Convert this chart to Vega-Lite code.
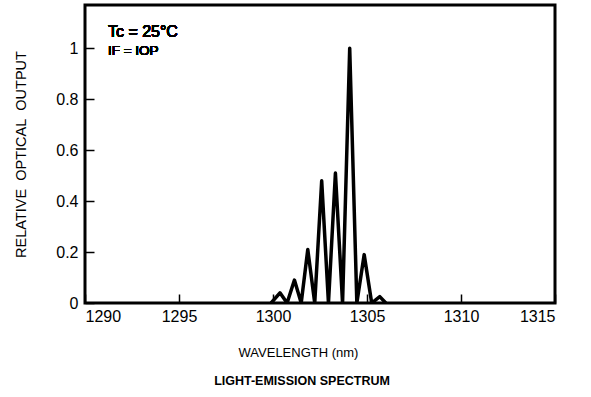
{
  "$schema": "https://vega.github.io/schema/vega-lite/v6.json",
  "width": 470,
  "height": 298,
  "autosize": "none",
  "padding": {"left": 85, "top": 5, "right": 36, "bottom": 94},
  "background": "white",
  "config": {
    "font": "Liberation Sans",
    "view": {"stroke": "black", "strokeWidth": 3},
    "axis": {
      "grid": false,
      "domain": false,
      "tickColor": "black",
      "tickWidth": 1.5,
      "tickSize": -9,
      "labelColor": "black",
      "labelFont": "Liberation Sans",
      "labelFontSize": 16,
      "titleColor": "black",
      "titleFont": "Liberation Sans",
      "titleFontWeight": "normal"
    }
  },
  "title": {
    "text": "LIGHT-EMISSION SPECTRUM",
    "orient": "bottom",
    "anchor": "middle",
    "dx": -18,
    "offset": 16,
    "baseline": "top",
    "font": "Liberation Sans",
    "fontSize": 12.5,
    "fontWeight": 900,
    "color": "black"
  },
  "data": {
    "values": [
      {"wavelength": 1299.9, "output": 0},
      {"wavelength": 1300.37, "output": 0.04},
      {"wavelength": 1300.75, "output": 0},
      {"wavelength": 1301.14, "output": 0.09},
      {"wavelength": 1301.5, "output": 0},
      {"wavelength": 1301.85, "output": 0.21},
      {"wavelength": 1302.22, "output": 0},
      {"wavelength": 1302.59, "output": 0.48},
      {"wavelength": 1302.95, "output": 0},
      {"wavelength": 1303.32, "output": 0.51},
      {"wavelength": 1303.7, "output": 0},
      {"wavelength": 1304.08, "output": 1.0},
      {"wavelength": 1304.46, "output": 0},
      {"wavelength": 1304.85, "output": 0.19},
      {"wavelength": 1305.25, "output": 0},
      {"wavelength": 1305.68, "output": 0.025},
      {"wavelength": 1306.0, "output": 0}
    ]
  },
  "layer": [
    {
      "mark": {"type": "line", "color": "black", "strokeWidth": 3.5, "strokeJoin": "round", "clip": true},
      "encoding": {
        "x": {
          "field": "wavelength",
          "type": "quantitative",
          "scale": {"domain": [1290, 1315], "nice": false, "zero": false},
          "axis": {
            "values": [1290, 1295, 1300, 1305, 1310, 1315],
            "format": "d",
            "labelPadding": 14,
            "title": "WAVELENGTH  (nm)",
            "titleFontSize": 13,
            "titleX": 213,
            "titleY": 49,
            "titleBaseline": "middle"
          }
        },
        "y": {
          "field": "output",
          "type": "quantitative",
          "scale": {"domain": [0, 1.17], "nice": false},
          "axis": {
            "values": [0, 0.2, 0.4, 0.6, 0.8, 1],
            "format": ".1~f",
            "labelPadding": 16,
            "title": "RELATIVE\u00a0\u00a0OPTICAL\u00a0\u00a0OUTPUT",
            "titleFontSize": 14.5,
            "titleX": -64,
            "titleBaseline": "middle"
          }
        }
      }
    },
    {
      "mark": {"type": "text", "text": "Tc = 25°C", "align": "left", "baseline": "alphabetic", "fontSize": 16, "fontWeight": "normal", "color": "black"},
      "encoding": {
        "x": {"datum": 1291.22},
        "y": {"datum": 1.043}
      }
    },
    {
      "mark": {"type": "text", "text": "IF = IOP", "align": "left", "baseline": "alphabetic", "fontSize": 13.5, "fontWeight": "normal", "color": "black"},
      "encoding": {
        "x": {"datum": 1291.22},
        "y": {"datum": 0.973}
      }
    }
  ]
}
